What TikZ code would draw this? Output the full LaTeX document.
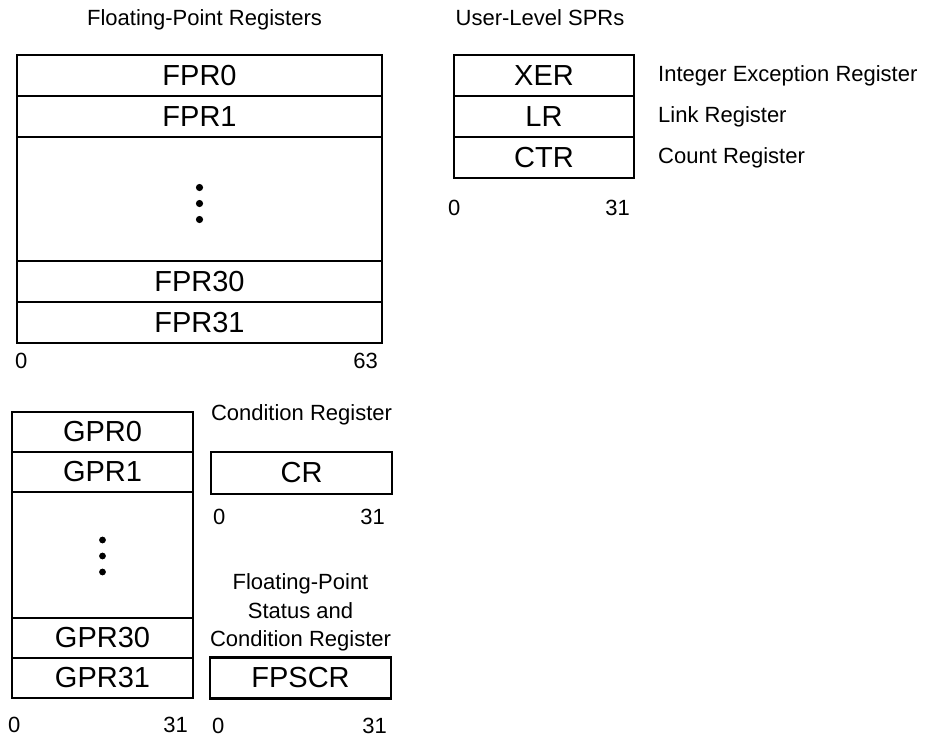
\documentclass[tikz,border=0pt]{standalone}
\usepackage{fontspec}
\setmainfont{Liberation Sans}
\usetikzlibrary{positioning}

\begin{document}
\begin{tikzpicture}[
  x=1pt, y=-1pt,
  reg/.style={draw, line width=2.2pt, outer sep=0pt, inner sep=0pt,
    minimum height=41pt, font=\fontsize{29}{30}\selectfont},
  regmid/.style={minimum height=124pt},
  fpr/.style={reg, minimum width=365pt},
  spr/.style={reg, minimum width=180pt},
  gpr/.style={reg, minimum width=181pt, minimum height=40pt},
  ctl/.style={reg, minimum width=181pt},
  note/.style={inner sep=0pt, font=\fontsize{22}{28.5}\selectfont},
  lbl/.style={note, text height=16pt, text depth=5pt},
  bitno/.style={note}
]
\useasboundingbox (0,0) rectangle (925,736);

\node[fpr] (fpr0) at (199.5,75.5) {FPR0};
\node[fpr, below=0pt of fpr0] (fpr1) {FPR1};
\node[fpr, regmid, below=0pt of fpr1] (fprmid) {};
\node[fpr, below=0pt of fprmid] (fpr30) {FPR30};
\node[fpr, below=0pt of fpr30] (fpr31) {FPR31};
\foreach \dy in {11.5,-4.5,-20.5}
  \fill ([yshift=\dy pt]fprmid.center) circle (3.6pt);
\node[lbl, above=24pt of fpr0, xshift=5pt] (fprtitle) {Floating-Point Registers};
\node[bitno, anchor=west] (fprlo) at ([xshift=-2pt,yshift=-18pt]fpr31.south west) {0};
\node[bitno, anchor=east] (fprhi) at ([xshift=-4pt,yshift=-18pt]fpr31.south east) {63};

\node[spr] (xer) at (544,75.5) {XER};
\node[spr, below=0pt of xer] (lr) {LR};
\node[spr, below=0pt of lr] (ctr) {CTR};
\node[lbl, above=24pt of xer, xshift=-4pt] (sprtitle) {User-Level SPRs};
\node[lbl, right=24pt of xer] (xerlbl) {Integer Exception Register};
\node[lbl, right=24pt of lr] (lrlbl) {Link Register};
\node[lbl, right=24pt of ctr] (ctrlbl) {Count Register};
\node[bitno, anchor=west] (sprlo) at ([xshift=-6pt,yshift=-30pt]ctr.south west) {0};
\node[bitno, anchor=east] (sprhi) at ([xshift=-4pt,yshift=-30pt]ctr.south east) {31};

\node[gpr] (gpr0) at (102.5,432) {GPR0};
\node[gpr, below=0pt of gpr0] (gpr1) {GPR1};
\node[gpr, regmid, minimum height=126pt, below=0pt of gpr1] (gprmid) {};
\node[gpr, below=0pt of gprmid] (gpr30) {GPR30};
\node[gpr, below=0pt of gpr30] (gpr31) {GPR31};
\foreach \dy in {15,-1,-17}
  \fill ([yshift=\dy pt]gprmid.center) circle (3.4pt);
\node[bitno, anchor=west] (gprlo) at ([xshift=-4pt,yshift=-27pt]gpr31.south west) {0};
\node[bitno, anchor=east] (gprhi) at ([xshift=-5pt,yshift=-27pt]gpr31.south east) {31};

\node[ctl, minimum height=42pt] (cr) at (301.5,473) {CR};
\node[lbl, above=26pt of cr] (crlbl) {Condition Register};
\node[bitno, anchor=west] (crlo) at ([xshift=2pt,yshift=-22.5pt]cr.south west) {0};
\node[bitno, anchor=east] (crhi) at ([xshift=-7pt,yshift=-22.5pt]cr.south east) {31};

\node[ctl] (fpscr) at (300.5,678) {FPSCR};
\node[note, align=center, above=6pt of fpscr] (fpscrlbl) {Floating-Point\\Status and\\Condition Register};
\node[bitno, anchor=west] (fpscrlo) at ([xshift=2pt,yshift=-27pt]fpscr.south west) {0};
\node[bitno, anchor=east] (fpscrhi) at ([xshift=-4pt,yshift=-27pt]fpscr.south east) {31};
\end{tikzpicture}
\end{document}
